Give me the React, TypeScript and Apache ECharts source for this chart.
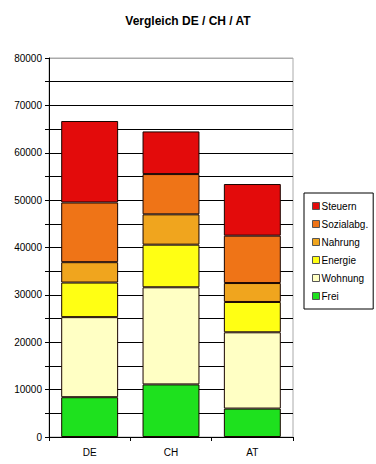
import React, { useEffect, useRef } from "react";
import * as echarts from "echarts";

const categories = ["DE", "CH", "AT"];
const seriesNames = ["Frei", "Wohnung", "Energie", "Nahrung", "Sozialabg.", "Steuern"];
const frei = [8400, 11100, 6000];
const wohnung = [16900, 20500, 16100];
const energie = [7300, 9000, 6400];
const nahrung = [4300, 6400, 4000];
const sozialabg = [12600, 8500, 10000];
const steuern = [17200, 9000, 10900];
const colors = ["#1ee11e", "#ffffc4", "#ffff14", "#f0a51e", "#ef7417", "#e30b0b"];
const legendOrder = ["Steuern", "Sozialabg.", "Nahrung", "Energie", "Wohnung", "Frei"];

const FONT = "Arial, 'Liberation Sans', sans-serif";

export default function App() {
  const ref = useRef<HTMLDivElement>(null);
  useEffect(() => {
    if (!ref.current) return;
    const chart = echarts.init(ref.current, undefined, { renderer: "svg" });
    const values = [frei, wohnung, energie, nahrung, sozialabg, steuern];
    const gridColors: string[] = [];
    for (let i = 0; i < 16; i++) gridColors.push("#000");
    gridColors.push("#aaa");
    chart.setOption({
      animation: false,
      backgroundColor: "#ffffff",
      title: {
        text: "Vergleich DE / CH / AT",
        left: "center",
        top: 10,
        textStyle: { fontFamily: FONT, fontSize: 12, fontWeight: "bold", color: "#000" },
      },
      grid: { left: 49, right: 83, top: 58, bottom: 27, containLabel: false, show: true, borderColor: "#aaa", borderWidth: 1 },
      legend: {
        orient: "vertical",
        left: 304,
        top: 193,
        data: legendOrder,
        itemWidth: 7,
        itemHeight: 7,
        itemGap: 8,
        padding: [8, 5, 8, 8],
        borderColor: "#000",
        borderWidth: 1,
        backgroundColor: "#fff",
        icon: "rect",
        textStyle: { fontFamily: FONT, fontSize: 10, color: "#000", padding: [0, 0, 0, -3] },
        itemStyle: { borderColor: "#555", borderWidth: 1 },
      },
      xAxis: {
        type: "category",
        data: categories,
        boundaryGap: true,
        axisLine: { lineStyle: { color: "#000" } },
        axisTick: { show: true, length: 4, lineStyle: { color: "#000" } },
        axisLabel: { fontFamily: FONT, fontSize: 10, color: "#000", margin: 10 },
      },
      yAxis: {
        type: "value",
        min: 0,
        max: 80000,
        interval: 5000,
        axisLine: { show: true, lineStyle: { color: "#000" } },
        axisTick: { show: true, length: 4, lineStyle: { color: "#000" } },
        axisLabel: {
          fontFamily: FONT,
          fontSize: 10,
          color: "#000",
          margin: 7,
          formatter: (v: number) => (v % 10000 === 0 ? String(v) : ""),
        },
        splitLine: { show: true, lineStyle: { color: gridColors, width: 1 } },
      },
      series: seriesNames.map((name, i) => ({
        name,
        type: "bar",
        stack: "total",
        data: values[i],
        barWidth: "70%",
        itemStyle: { color: colors[i], borderColor: "#1a0500", borderWidth: 1 },
      })),
    });
    return () => chart.dispose();
  }, []);
  return <div ref={ref} style={{ width: 376, height: 464, position: "absolute", left: 0, top: 0 }} />;
}
